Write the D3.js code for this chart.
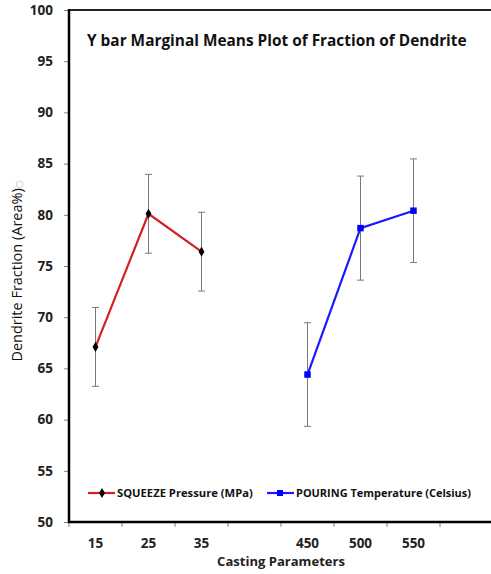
<!DOCTYPE html>
<html><head><meta charset="utf-8">
<script src="https://cdn.jsdelivr.net/npm/d3@7"></script>
<style>body{margin:0;background:#fff}svg{display:block}</style>
</head><body>
<svg id="c" width="491" height="574"></svg>
<script>
const categories = ["15","25","35","","450","500","550",""];
const squeezeX = ["15","25","35"];
const squeezeMean = [67.1, 80.1, 76.4];
const squeezeErr = [3.85, 3.85, 3.85];
const pouringX = ["450","500","550"];
const pouringMean = [64.4, 78.7, 80.4];
const pouringErr = [5.06, 5.08, 5.06];
const yTicks = [50,55,60,65,70,75,80,85,90,95,100];

const FONT = "'Open Sans', 'Noto Sans', sans-serif";
const svg = d3.select("#c");
const L = 69, R = 493, T = 10, B = 522;
const x = d3.scaleBand().domain(categories.map((d,i)=>i)).range([L, R]);
const y = d3.scaleLinear().domain([50,100]).range([B, T]);
const cx = (cat) => x(categories.indexOf(cat)) + x.bandwidth()/2;

// y axis
const ya = svg.append("g").attr("transform", `translate(${L},0)`)
  .call(d3.axisLeft(y).tickValues(yTicks).tickSize(5).tickPadding(11));
ya.select(".domain").remove();
ya.selectAll(".tick line").attr("stroke", "#808080");
ya.selectAll(".tick text").attr("font-family", FONT).attr("font-weight", "700")
  .attr("font-size", 13.5).attr("fill", "#222");

// x axis
const xa = svg.append("g").attr("transform", `translate(0,${B})`)
  .call(d3.axisBottom(x).tickSize(0).tickPadding(16).tickFormat(i => categories[i]));
xa.select(".domain").remove();
xa.selectAll(".tick text").attr("font-family", FONT).attr("font-weight", "700")
  .attr("font-size", 13.5).attr("fill", "#222");
// band boundary ticks
const bounds = categories.map((d,i)=>x(i));
svg.append("g").selectAll("line").data(bounds).join("line")
  .attr("x1", d=>d).attr("x2", d=>d).attr("y1", B).attr("y2", B+5)
  .attr("stroke", "#808080");

// frame lines
svg.append("line").attr("x1", L).attr("x2", 491).attr("y1", T).attr("y2", T).attr("stroke", "#222").attr("stroke-width", 2);
svg.append("line").attr("x1", L).attr("x2", L).attr("y1", T-1).attr("y2", B+1).attr("stroke", "#000").attr("stroke-width", 2.5);
svg.append("line").attr("x1", L-1).attr("x2", 491).attr("y1", B).attr("y2", B).attr("stroke", "#000").attr("stroke-width", 2.5);

function drawSeries(xs, means, errs, color, shape) {
  const pts = xs.map((c,i)=>({x: cx(c), m: means[i], e: errs[i]}));
  const g = svg.append("g");
  pts.forEach(p => {
    g.append("line").attr("x1", p.x).attr("x2", p.x).attr("y1", y(p.m+p.e)).attr("y2", y(p.m-p.e)).attr("stroke", "#7a7a7a").attr("stroke-width", 1);
    [p.m+p.e, p.m-p.e].forEach(v => g.append("line").attr("x1", p.x-3.5).attr("x2", p.x+3.5).attr("y1", y(v)).attr("y2", y(v)).attr("stroke", "#7a7a7a").attr("stroke-width", 1));
  });
  g.append("path").datum(pts).attr("d", d3.line().x(d=>d.x).y(d=>y(d.m)))
    .attr("fill", "none").attr("stroke", color).attr("stroke-width", 2.2);
  const sym = shape === "diamond" ? d3.symbol().type(d3.symbolDiamond).size(30) : d3.symbol().type(d3.symbolSquare).size(42);
  g.selectAll("path.m").data(pts).join("path").attr("class","m")
    .attr("transform", d=>`translate(${d.x},${y(d.m)})`).attr("d", sym)
    .attr("fill", shape === "diamond" ? "#000" : "#0000ff");
}
drawSeries(squeezeX, squeezeMean, squeezeErr, "#d42020", "diamond");
drawSeries(pouringX, pouringMean, pouringErr, "#1a1aff", "square");

function fitText(sel, target) {
  const w = sel.node().getComputedTextLength();
  const fs = parseFloat(sel.attr("font-size"));
  sel.attr("font-size", fs * target / w);
}
const title = svg.append("text").attr("x", 87).attr("y", 46).attr("font-family", FONT)
  .attr("font-weight", "700").attr("font-size", 16).attr("fill", "#111")
  .text("Y bar Marginal Means Plot of Fraction of Dendrite");
fitText(title, 380);

// legend
const ly = 493;
svg.append("line").attr("x1", 88).attr("x2", 115).attr("y1", ly).attr("y2", ly).attr("stroke", "#d42020").attr("stroke-width", 2.2);
svg.append("path").attr("transform", `translate(102,${ly})`).attr("d", d3.symbol().type(d3.symbolDiamond).size(30)).attr("fill", "#000");
const t1 = svg.append("text").attr("x", 117).attr("y", ly+4).attr("font-family", FONT).attr("font-weight", "700")
  .attr("font-size", 11).attr("fill", "#111").text("SQUEEZE Pressure (MPa)");
fitText(t1, 136);
svg.append("line").attr("x1", 267).attr("x2", 294).attr("y1", ly).attr("y2", ly).attr("stroke", "#1a1aff").attr("stroke-width", 2.2);
svg.append("path").attr("transform", `translate(280,${ly})`).attr("d", d3.symbol().type(d3.symbolSquare).size(36)).attr("fill", "#0000ff");
const t2 = svg.append("text").attr("x", 296).attr("y", ly+4).attr("font-family", FONT).attr("font-weight", "700")
  .attr("font-size", 11).attr("fill", "#111").text("POURING Temperature (Celsius)");
fitText(t2, 175);

// axis titles
const xt = svg.append("text").attr("x", (L+R)/2).attr("y", 566).attr("text-anchor", "middle")
  .attr("font-family", FONT).attr("font-weight", "700").attr("font-size", 13).attr("fill", "#222")
  .text("Casting Parameters");
fitText(xt, 128);
const yt = svg.append("text").attr("transform", `translate(22,271) rotate(-90)`).attr("text-anchor", "middle")
  .attr("font-family", FONT).attr("font-size", 12).attr("fill", "#111");
yt.append("tspan").text("Dendrite Fraction (Area%)");
yt.append("tspan").attr("fill", "#aaa").attr("font-family", "'DejaVu Sans'").attr("font-size", 9).text("○");
fitText(yt, 183);
</script>
</body></html>
